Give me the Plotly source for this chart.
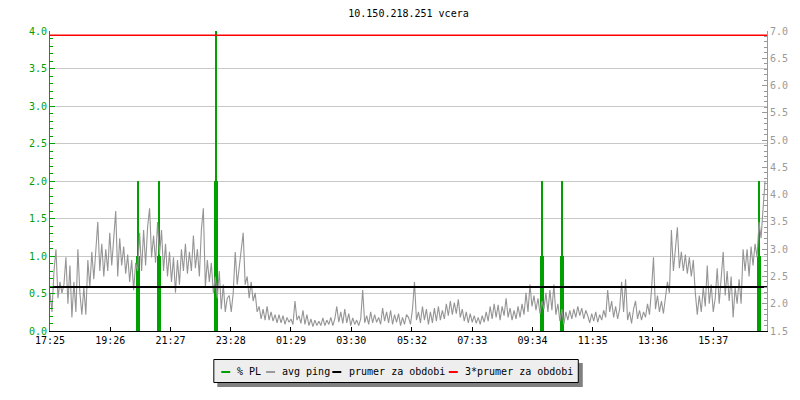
import plotly.graph_objects as go

# ---------------- data ----------------
title_text = "10.150.218.251 vcera"

tick_minutes = [0, 121, 242, 363, 484, 605, 727, 848, 969, 1090, 1211, 1332]
tick_labels = ["17:25", "19:26", "21:27", "23:28", "01:29", "03:30",
               "05:32", "07:33", "09:34", "11:35", "13:36", "15:37"]

# % packet loss samples (minutes from 17:25, percent)
pl_minutes = [175, 177, 179, 217, 219, 221, 331, 333, 335,
              987, 989, 991, 1027, 1029, 1031, 1421, 1423, 1425]
pl_values = [1.0, 2.0, 1.0, 1.0, 2.0, 1.0, 2.0, 4.0, 2.0,
             1.0, 2.0, 1.0, 1.0, 2.0, 1.0, 1.0, 2.0, 1.0]

# avg ping (ms), one sample every 4 minutes starting 17:25
sample_step_min = 4
avg_ping = [
    2.2, 1.85, 2.6, 3.0, 2.1, 2.4, 2.2, 2.35, 2.85, 2.0,
    2.7, 1.75, 2.4, 1.85, 3.0, 2.2, 1.8, 2.3, 1.8, 2.8,
    2.3, 2.95, 2.45, 3.0, 3.5, 2.6, 3.1, 2.5, 3.0, 2.6,
    3.3, 2.7, 3.2, 3.7, 2.5, 3.2, 2.7, 3.05, 2.55, 2.9,
    2.4, 2.8, 2.25, 2.75, 2.6, 3.3, 2.6, 3.35, 2.7, 3.4,
    3.75, 2.85, 3.25, 2.75, 3.5, 2.9, 3.35, 2.6, 3.1, 2.5,
    2.95, 2.4, 2.85, 2.2, 2.8, 2.35, 3.0, 2.6, 3.1, 2.55,
    2.95, 2.6, 3.25, 2.65, 3.0, 2.5, 3.35, 3.75, 2.3, 2.8,
    2.4, 2.75, 2.2, 2.5, 2.1, 2.6, 1.9, 2.35, 1.85, 2.1,
    2.15, 1.85, 2.2, 2.95, 2.35, 2.65, 3.0, 3.3, 2.35, 2.5,
    2.1, 2.4, 2.05, 2.2, 1.85, 1.95, 1.72, 1.9, 1.7, 1.95,
    1.7, 1.85, 1.68, 1.8, 1.65, 1.8, 1.65, 1.78, 1.62, 1.75,
    1.66, 1.72, 1.62, 2.05, 1.7, 1.78, 1.64, 1.88, 1.62, 1.8,
    1.6, 1.72, 1.58, 1.7, 1.6, 1.68, 1.6, 1.74, 1.6, 1.7,
    1.62, 1.75, 1.6, 1.72, 1.95, 1.66, 1.85, 1.64, 1.9, 1.65,
    1.82, 1.6, 1.74, 1.62, 1.7, 1.6, 1.72, 2.25, 1.65, 1.78,
    1.62, 1.85, 1.65, 1.8, 1.66, 1.75, 1.62, 1.92, 1.68, 1.85,
    1.65, 1.88, 1.62, 1.8, 1.66, 1.82, 1.6, 1.75, 1.62, 1.8,
    1.75, 1.62, 1.9, 2.4, 1.7, 1.85, 1.65, 1.95, 1.7, 1.9,
    1.62, 1.85, 1.65, 1.92, 1.68, 1.95, 1.7, 1.88, 1.72, 2.0,
    1.78, 2.05, 1.8, 2.02, 1.82, 2.08, 1.75, 1.9, 1.68, 1.85,
    1.65, 1.82, 1.66, 1.78, 1.64, 1.75, 1.62, 1.78, 1.66, 1.85,
    1.68, 1.95, 1.72, 2.0, 1.75, 1.98, 1.7, 1.95, 1.78, 2.1,
    1.75, 1.92, 1.7, 1.88, 1.72, 1.95, 1.75, 2.0, 1.8, 2.2,
    1.85, 2.35, 1.95, 2.15, 1.88, 2.1, 1.82, 2.05, 1.9, 2.2,
    1.85, 2.25, 1.88, 2.35, 1.8, 2.0, 1.68, 1.9, 1.62, 1.85,
    1.7, 1.88, 1.72, 1.9, 1.75, 1.95, 1.78, 1.92, 1.72, 1.88,
    1.78, 1.65, 1.82, 1.68, 1.85, 1.66, 1.8, 1.7, 1.88, 1.75,
    2.25, 1.85, 2.05, 1.75, 1.95, 1.72, 1.9, 2.4, 1.85, 2.45,
    1.7, 1.85, 1.64, 1.9, 2.05, 1.72, 1.88, 1.7, 1.85, 1.75,
    2.0, 1.8, 2.25, 2.85, 1.9, 2.15, 1.85, 2.05, 1.82, 2.1,
    2.4, 2.2, 3.35, 2.6, 3.0, 3.4, 2.65, 2.95, 2.6, 2.9,
    2.55, 2.85, 2.5, 2.8, 2.2, 1.8, 2.15, 1.85, 2.3, 1.95,
    2.7, 2.0, 2.35, 1.85, 2.1, 2.65, 2.0, 2.55, 2.95, 2.15,
    2.6, 2.05, 2.5, 1.75, 2.3, 2.0, 2.45, 2.0, 3.0, 2.6,
    3.0, 2.5, 3.05, 2.7, 3.1, 2.85, 3.5, 3.2, 3.7, 4.25,
]
ping_minutes = [i * sample_step_min for i in range(len(avg_ping))]

prumer = 2.307          # average over the period (ms)
prumer3 = 6.92          # 3 * average (ms)

# ---------------- styling ----------------
FONT = "DejaVu Sans Mono"
GREEN = "#00a000"
GRAY = "#999999"
L, R, T, B = 50, 30, 31, 69
W, H = 800, 400
PW, PH = W - L - R, H - T - B


def px(x):
    return (x - L) / PW


def py(y):
    return (H - B - y) / PH


fig = go.Figure()

fig.add_trace(go.Bar(
    x=pl_minutes, y=pl_values, width=2, marker=dict(color=GREEN, line=dict(width=0)),
    name="% PL", yaxis="y", showlegend=False, hoverinfo="skip"))

fig.add_trace(go.Scatter(
    x=ping_minutes, y=avg_ping, mode="lines", line=dict(color="#959595", width=1.1),
    name="avg ping", yaxis="y2", showlegend=False, hoverinfo="skip"))

fig.add_trace(go.Scatter(
    x=[0, 1440], y=[prumer, prumer], mode="lines", line=dict(color="black", width=2),
    name="prumer za obdobi", yaxis="y2", showlegend=False, hoverinfo="skip"))

fig.add_trace(go.Scatter(
    x=[0, 1440], y=[prumer3, prumer3], mode="lines", line=dict(color="#ff0000", width=1.5),
    name="3*prumer za obdobi", yaxis="y2", showlegend=False, hoverinfo="skip"))

shapes = []
annotations = []
# legend shadow and box
shapes.append(dict(type="rect", xref="paper", yref="paper",
                   x0=px(218), x1=px(585), y0=py(363), y1=py(387),
                   fillcolor="#808080", line=dict(width=0), layer="above"))
shapes.append(dict(type="rect", xref="paper", yref="paper",
                   x0=px(214.5), x1=px(580.5), y0=py(359.5), y1=py(382.5),
                   fillcolor="#eeeeee", line=dict(color="black", width=1), layer="above"))
legend_items = [
    (GREEN, 222, "% PL", 236),
    (GRAY, 267, "avg ping", 280.5),
    ("black", 333.5, "prumer za obdobi", 348),
    ("#ff0000", 450.5, "3*prumer za obdobi", 465),
]
for color, lx, text, tx in legend_items:
    shapes.append(dict(type="line", xref="paper", yref="paper",
                       x0=px(lx), x1=px(lx + 9), y0=py(372), y1=py(372),
                       line=dict(color=color, width=2), layer="above"))
    annotations.append(dict(x=px(tx), y=py(371.5), xref="paper", yref="paper",
                            text=text, showarrow=False, xanchor="left", yanchor="middle",
                            font=dict(family=FONT, size=10, color="black")))

fig.update_layout(
    width=W, height=H,
    margin=dict(l=L, r=R, t=T, b=B, pad=0),
    paper_bgcolor="white", plot_bgcolor="white",
    title=dict(text=title_text, x=0.5, xref="paper", y=1 - 13.5 / H, yref="container",
               xanchor="center", yanchor="middle",
               font=dict(family=FONT, size=10, color="black")),
    showlegend=False,
    bargap=0,
    xaxis=dict(range=[0, 1440], tickmode="array", tickvals=tick_minutes, ticktext=tick_labels,
               ticks="inside", ticklen=4, tickcolor="black", showline=True, linecolor="black",
               linewidth=1, showgrid=False, zeroline=False,
               tickfont=dict(family=FONT, size=10, color="black")),
    yaxis=dict(range=[0, 4], dtick=0.5, tick0=0, tickformat=".1f", ticks="inside", ticklen=5,
               tickcolor=GREEN, showline=True, linecolor=GREEN, linewidth=1,
               showgrid=True, gridcolor="#c8c8c8", gridwidth=1, zeroline=False,
               tickfont=dict(family=FONT, size=10, color=GREEN),
               minor=dict(dtick=0.1, tick0=0, ticks="inside", ticklen=3, tickcolor=GREEN, showgrid=False)),
    yaxis2=dict(range=[1.5, 7.0], dtick=0.5, tick0=1.5, tickformat=".1f", overlaying="y", side="right",
                ticks="inside", ticklen=5, tickcolor=GRAY, showline=True, linecolor=GRAY, linewidth=1,
                showgrid=False, zeroline=False,
                tickfont=dict(family=FONT, size=10, color=GRAY),
                minor=dict(dtick=0.1, tick0=1.5, ticks="inside", ticklen=3, tickcolor=GRAY, showgrid=False)),
    shapes=shapes,
    annotations=annotations,
)

fig.write_html("out.html", config={"displayModeBar": False},
               post_script="document.body.style.margin='0';document.body.style.padding='0';")
